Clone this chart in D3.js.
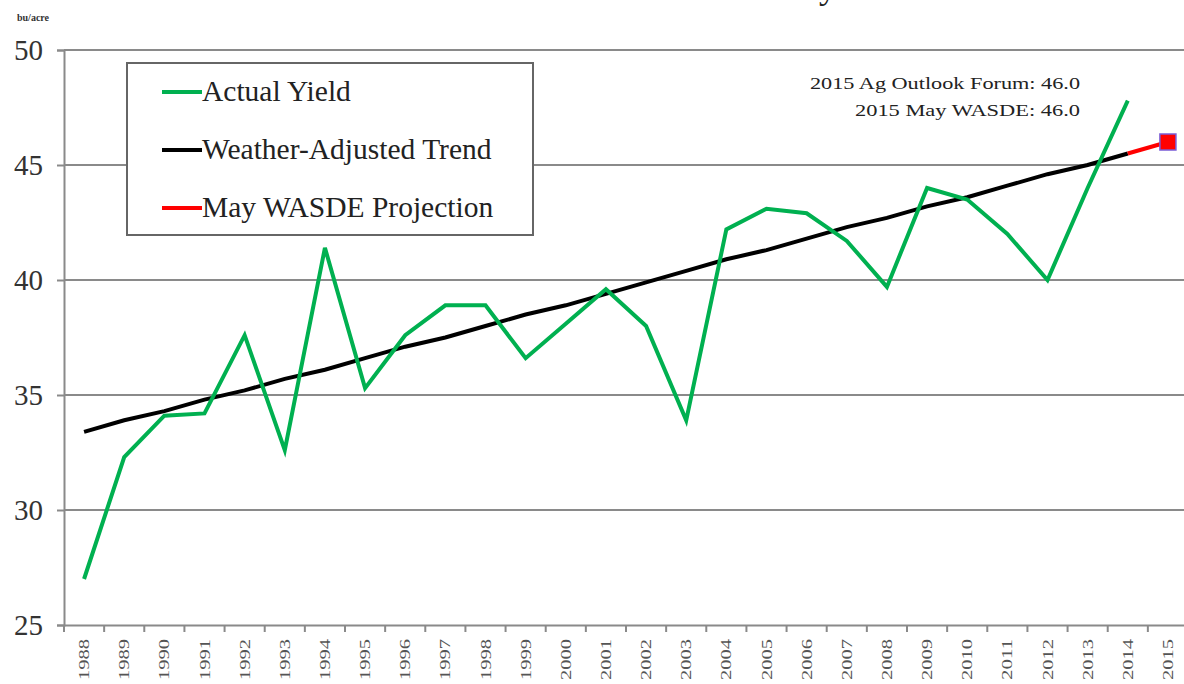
<!DOCTYPE html>
<html>
<head>
<meta charset="utf-8">
<script src="https://cdn.jsdelivr.net/npm/d3@7"></script>
<style>
  body { margin: 0; background: #fff; }
  svg { display: block; font-family: "Liberation Serif", "Times New Roman", serif; }
</style>
</head>
<body>
<svg id="chart" width="1184" height="684"></svg>
<script>
// years on the x axis
const years = ["1988","1989","1990","1991","1992","1993","1994","1995","1996","1997",
  "1998","1999","2000","2001","2002","2003","2004","2005","2006","2007",
  "2008","2009","2010","2011","2012","2013","2014","2015"];

// Actual yield, 1988-2014 (bu/acre)
const actualYield = [27.0, 32.3, 34.1, 34.2, 37.6, 32.6, 41.4, 35.3, 37.6, 38.9,
  38.9, 36.6, 38.1, 39.6, 38.0, 33.9, 42.2, 43.1, 42.9, 41.7,
  39.7, 44.0, 43.5, 42.0, 40.0, 44.0, 47.8];

// Weather-adjusted trend, 1988-2014
const trendYield = [33.4, 33.9, 34.3, 34.8, 35.2, 35.7, 36.1, 36.6, 37.1, 37.5,
  38.0, 38.5, 38.9, 39.4, 39.9, 40.4, 40.9, 41.3, 41.8, 42.3,
  42.7, 43.2, 43.6, 44.1, 44.6, 45.0, 45.5];

// May WASDE projection segment, 2014-2015
const projYears = ["2014", "2015"];
const projYield = [45.5, 46.0];

const yTicks = [25, 30, 35, 40, 45, 50];
const legendItems = ["Actual Yield", "Weather-Adjusted Trend", "May WASDE Projection"];
const legendColors = ["#00b050", "#000000", "#ff0000"];
const notes = ["2015 Ag Outlook Forum:  46.0", "2015 May WASDE:  46.0"];
const noteWidths = [270, 225];

const svg = d3.select("#chart");

const x = d3.scaleBand().domain(years).range([64, 1188]).padding(0);
const y = d3.scaleLinear().domain([25, 50]).range([625, 50]);
const cx = d => x(d) + x.bandwidth() / 2;

// title, mostly above the top edge as in the source
svg.append("text")
  .attr("x", 708).attr("y", -2)
  .attr("font-size", 36)
  .attr("fill", "#222")
  .text("U.S. Soybean Yield");

// unit label
svg.append("text")
  .attr("x", 17).attr("y", 21)
  .attr("font-size", 10)
  .attr("font-weight", "bold")
  .attr("fill", "#333")
  .text("bu/acre");

// horizontal gridlines
svg.append("g")
  .selectAll("line")
  .data(yTicks.filter(d => d > 25))
  .enter().append("line")
  .attr("x1", 64).attr("x2", 1184)
  .attr("y1", d => y(d)).attr("y2", d => y(d))
  .attr("stroke", "#8a8a8a")
  .attr("stroke-width", 2);

// y axis
const yAxis = svg.append("g")
  .attr("transform", "translate(64,0)")
  .call(d3.axisLeft(y).tickValues(yTicks).tickSize(7).tickPadding(14).tickFormat(d3.format("d")));
yAxis.select(".domain").attr("stroke", "#8a8a8a").attr("stroke-width", 2);
yAxis.selectAll(".tick line").attr("stroke", "#8a8a8a").attr("stroke-width", 2);
yAxis.selectAll("text")
  .attr("font-family", "Liberation Serif, serif")
  .attr("font-size", 29)
  .attr("fill", "#333");

// x axis
const xAxis = svg.append("g")
  .attr("transform", "translate(0,625)")
  .call(d3.axisBottom(x).tickSize(0).tickPadding(0));
xAxis.select(".domain").attr("stroke", "#8a8a8a").attr("stroke-width", 2);
xAxis.selectAll(".tick text").remove();
// boundary ticks between categories
xAxis.selectAll("line.bound")
  .data(years)
  .enter().append("line")
  .attr("class", "bound")
  .attr("x1", d => x(d)).attr("x2", d => x(d))
  .attr("y1", 0).attr("y2", 7)
  .attr("stroke", "#8a8a8a")
  .attr("stroke-width", 2);
xAxis.selectAll("text.yr")
  .data(years)
  .enter().append("text")
  .attr("class", "yr")
  .attr("transform", d => `translate(${cx(d) + 5},${14}) rotate(-90)`)
  .attr("text-anchor", "end")
  .attr("font-family", "Liberation Serif, serif")
  .attr("font-size", 14)
  .attr("textLength", 41)
  .attr("lengthAdjust", "spacingAndGlyphs")
  .attr("fill", "#555")
  .text(d => d);

// lines
const line = d3.line().x(d => cx(d[0])).y(d => y(d[1]));

svg.append("path")
  .datum(years.slice(0, trendYield.length).map((yr, i) => [yr, trendYield[i]]))
  .attr("d", line)
  .attr("fill", "none")
  .attr("stroke", "#000")
  .attr("stroke-width", 4);

svg.append("path")
  .datum(projYears.map((yr, i) => [yr, projYield[i]]))
  .attr("d", line)
  .attr("fill", "none")
  .attr("stroke", "#ff0000")
  .attr("stroke-width", 4);

svg.append("path")
  .datum(years.slice(0, actualYield.length).map((yr, i) => [yr, actualYield[i]]))
  .attr("d", line)
  .attr("fill", "none")
  .attr("stroke", "#00b050")
  .attr("stroke-width", 4)
  .attr("stroke-linejoin", "miter");

// projection marker
svg.append("rect")
  .attr("x", cx("2015") - 8).attr("y", y(projYield[1]) - 8)
  .attr("width", 16).attr("height", 16)
  .attr("fill", "#ff0000")
  .attr("stroke", "#7a5cd6")
  .attr("stroke-width", 1.5);

// notes
svg.selectAll("text.note")
  .data(notes)
  .enter().append("text")
  .attr("class", "note")
  .attr("x", 1080)
  .attr("y", (d, i) => 89 + i * 27)
  .attr("text-anchor", "end")
  .attr("font-size", 17)
  .attr("textLength", (d, i) => noteWidths[i])
  .attr("lengthAdjust", "spacingAndGlyphs")
  .attr("fill", "#222")
  .text(d => d);

// legend
const lg = svg.append("g");
lg.append("rect")
  .attr("x", 127).attr("y", 63)
  .attr("width", 406).attr("height", 172)
  .attr("fill", "#fff")
  .attr("stroke", "#666")
  .attr("stroke-width", 2);
const items = lg.selectAll("g.item")
  .data(legendItems)
  .enter().append("g")
  .attr("class", "item")
  .attr("transform", (d, i) => `translate(0,${92 + i * 58})`);
items.append("line")
  .attr("x1", 162).attr("x2", 202)
  .attr("stroke", (d, i) => legendColors[i])
  .attr("stroke-width", 4);
items.append("text")
  .attr("x", 202).attr("y", 9)
  .attr("font-size", 29.5)
  .attr("fill", "#222")
  .text(d => d);
</script>
</body>
</html>
